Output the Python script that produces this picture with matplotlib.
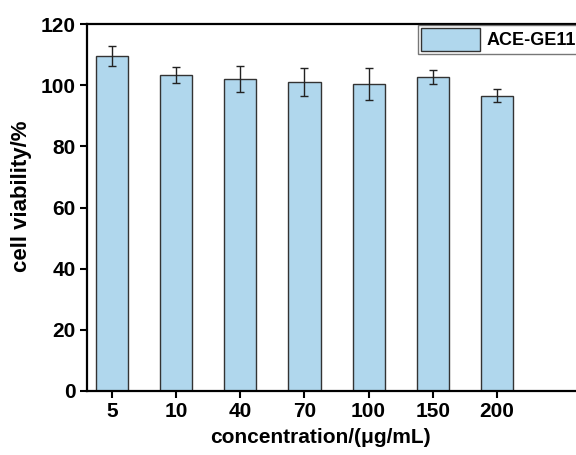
import matplotlib.pyplot as plt
import numpy as np

plt.rcParams['font.family'] = ['Liberation Sans', 'DejaVu Sans']
plt.rcParams['font.weight'] = 'bold'

concentrations = ['5', '10', '40', '70', '100', '150', '200']
viability = [109.6, 103.5, 102.0, 101.1, 100.4, 102.8, 96.6]
errors = [3.4, 2.6, 4.3, 4.5, 5.2, 2.3, 2.1]
series_name = 'ACE-GE11'

fig = plt.figure(figsize=(5.76, 4.55), dpi=100)
ax = fig.add_axes([0.151, 0.1407, 0.92, 0.806])

x = np.arange(len(concentrations))
ax.bar(x, viability, 0.5, yerr=errors, color='#b0d7ed', edgecolor='#333333',
       linewidth=1.0, capsize=3,
       error_kw=dict(ecolor='#222222', elinewidth=1.0, capthick=1.0),
       label=series_name)

ax.set_xlim(-0.39, 7.87)
ax.set_ylim(0, 120)
ax.set_xticks(x, concentrations)
ax.set_yticks(np.arange(0, 121, 20))
ax.tick_params(direction='out', length=5, width=1.5, labelsize=15, pad=3)
for s in ax.spines.values():
    s.set_linewidth(1.6)

ax.set_xlabel('concentration/(μg/mL)', fontsize=15, fontweight='bold')
ax.set_ylabel('cell viability/%', fontsize=16, fontweight='bold')
ax.xaxis.set_label_coords(233 / 530, -0.1)
ax.yaxis.set_label_coords(-0.103, 0.53)

leg = ax.legend(loc='upper left', bbox_to_anchor=(418 / 576, 1 - 25 / 455),
                bbox_transform=fig.transFigure, fontsize=13, frameon=True,
                fancybox=False, handlelength=3.3, handleheight=1.6,
                borderpad=0.15, handletextpad=0.35, borderaxespad=0)
leg.get_frame().set_edgecolor('#555555')
leg.get_frame().set_linewidth(1.0)

fig.savefig('out.png', dpi=100)
